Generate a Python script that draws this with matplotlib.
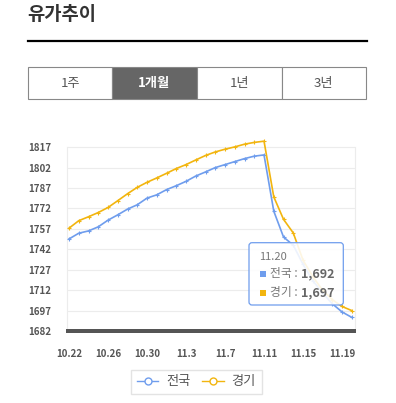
import matplotlib.pyplot as plt
import numpy as np
from matplotlib.patches import Rectangle, FancyBboxPatch
from matplotlib.lines import Line2D

plt.rcParams['font.family'] = ['Noto Sans CJK KR', 'DejaVu Sans']

# data (10.22 ~ 11.20)
dates = ['10.22', '10.23', '10.24', '10.25', '10.26', '10.27', '10.28', '10.29', '10.30', '10.31',
         '11.1', '11.2', '11.3', '11.4', '11.5', '11.6', '11.7', '11.8', '11.9', '11.10',
         '11.11', '11.12', '11.13', '11.14', '11.15', '11.16', '11.17', '11.18', '11.19', '11.20']
national = [1749.6, 1753.8, 1755.5, 1758.5, 1763.4, 1767.3, 1771.5, 1774.7, 1779.6, 1782.0,
            1785.8, 1788.7, 1791.9, 1795.8, 1798.8, 1802.0, 1804.2, 1806.4, 1808.6, 1810.4,
            1811.3, 1770.0, 1751.0, 1745.0, 1731.0, 1719.0, 1710.0, 1702.0, 1696.0, 1692.0]
gyeonggi = [1757.5, 1763.0, 1765.9, 1769.0, 1772.7, 1777.7, 1782.8, 1787.5, 1791.2, 1794.4,
            1797.8, 1801.3, 1804.2, 1807.6, 1810.9, 1813.5, 1815.5, 1817.2, 1819.2, 1820.5,
            1821.4, 1780.5, 1764.0, 1754.0, 1734.0, 1722.0, 1712.0, 1705.0, 1700.0, 1697.0]
tabs = ['1주', '1개월', '1년', '3년']
yticks = list(range(1682, 1818, 15))

blue = '#6f9ded'
orange = '#f2b50f'
W, H = 396, 403

fig = plt.figure(figsize=(W / 100, H / 100), dpi=100)

# main chart (pixel box: x 67-355, y 139-331)
ax = fig.add_axes([67 / W, (H - 331) / H, (355 - 67) / W, (331 - 139) / H])
x = np.arange(len(dates))
ax.plot(x, national, color=blue, lw=1.2, marker='+', ms=3, mew=0.8, zorder=3)
ax.plot(x, gyeonggi, color=orange, lw=1.2, marker='+', ms=3, mew=0.8, zorder=3)
ax.set_xlim(-0.205, 29.33)
ax.set_ylim(1682, 1823)
ax.set_yticks(yticks)
ax.set_yticklabels([str(v) for v in yticks])
ax.set_xticks(x[::4])
ax.set_xticklabels(dates[::4])
for t in ax.get_yticklabels() + ax.get_xticklabels():
    t.set_fontweight('bold')
    t.set_color('#555555')
    t.set_fontsize(7)
ax.tick_params(axis='y', length=0, pad=11)
ax.tick_params(axis='x', length=0, pad=13)
for v in yticks[1:]:
    ax.axhline(v, color='#ececec', lw=0.8, zorder=1)
for s in ['top', 'bottom']:
    ax.spines[s].set_visible(False)
for s in ['left', 'right']:
    ax.spines[s].set_color('#ececec')
    ax.spines[s].set_bounds(1682, 1817)

# overlay in pixel coordinates
ov = fig.add_axes([0, 0, 1, 1], zorder=5)
ov.set_xlim(0, W)
ov.set_ylim(H, 0)
ov.axis('off')

# heavy baseline of the chart
ov.add_patch(Rectangle((66, 329), 290, 4, facecolor='#555555', edgecolor='none'))

ov.text(27, 15, '유가추이', fontsize=13.5, fontweight='bold', color='#333333', va='center', ha='left')
ov.plot([28, 367], [41, 41], color='black', lw=1.6)

# tabs
edges = [28.3, 112, 196.7, 281.7, 365.7]
for i, lab in enumerate(tabs):
    active = i == 1
    ov.add_patch(Rectangle((edges[i], 67.3), edges[i + 1] - edges[i], 31.4,
                           facecolor='#666666' if active else 'white',
                           edgecolor='#888888', lw=0.8))
    ov.text((edges[i] + edges[i + 1]) / 2, 83, lab, ha='center', va='center', fontsize=9.5,
            color='white' if active else '#555555', fontweight='bold' if active else 'normal')

# tooltip
ov.add_patch(FancyBboxPatch((249, 242.7), 94.3, 62.3, boxstyle='round,pad=0,rounding_size=3',
                            facecolor='white', edgecolor='none', alpha=0.88))
ov.add_patch(FancyBboxPatch((249, 242.7), 94.3, 62.3, boxstyle='round,pad=0,rounding_size=3',
                            facecolor='none', edgecolor=blue, lw=0.9))
ov.text(259, 257, dates[-1], fontsize=8, color='#777777', va='center')
for yy, col, name, val in [(274, blue, '전국', national[-1]), (292.7, orange, '경기', gyeonggi[-1])]:
    ov.add_patch(Rectangle((260.3, yy - 3), 5.4, 6, facecolor=col, edgecolor='none'))
    ov.text(269.5, yy, name + ' :', fontsize=8.5, color='#777777', va='center')
    ov.text(301.5, yy, f'{val:,.0f}', fontsize=9, color='#666666', fontweight='bold', va='center')

# legend
leg = ax.legend(handles=[
    Line2D([], [], color=blue, marker='o', mfc='white', ms=5, lw=1, label='전국'),
    Line2D([], [], color=orange, marker='o', mfc='white', ms=5, lw=1, label='경기')],
    loc='center', bbox_to_anchor=(196.5 / W, 1 - 382 / H), bbox_transform=fig.transFigure,
    ncol=2, fancybox=False, edgecolor='#dddddd', fontsize=9.5, handlelength=1.6,
    columnspacing=0.9, handletextpad=0.6, borderpad=0.45)
for t in leg.get_texts():
    t.set_color('#555555')

fig.savefig('out.png', dpi=100)
